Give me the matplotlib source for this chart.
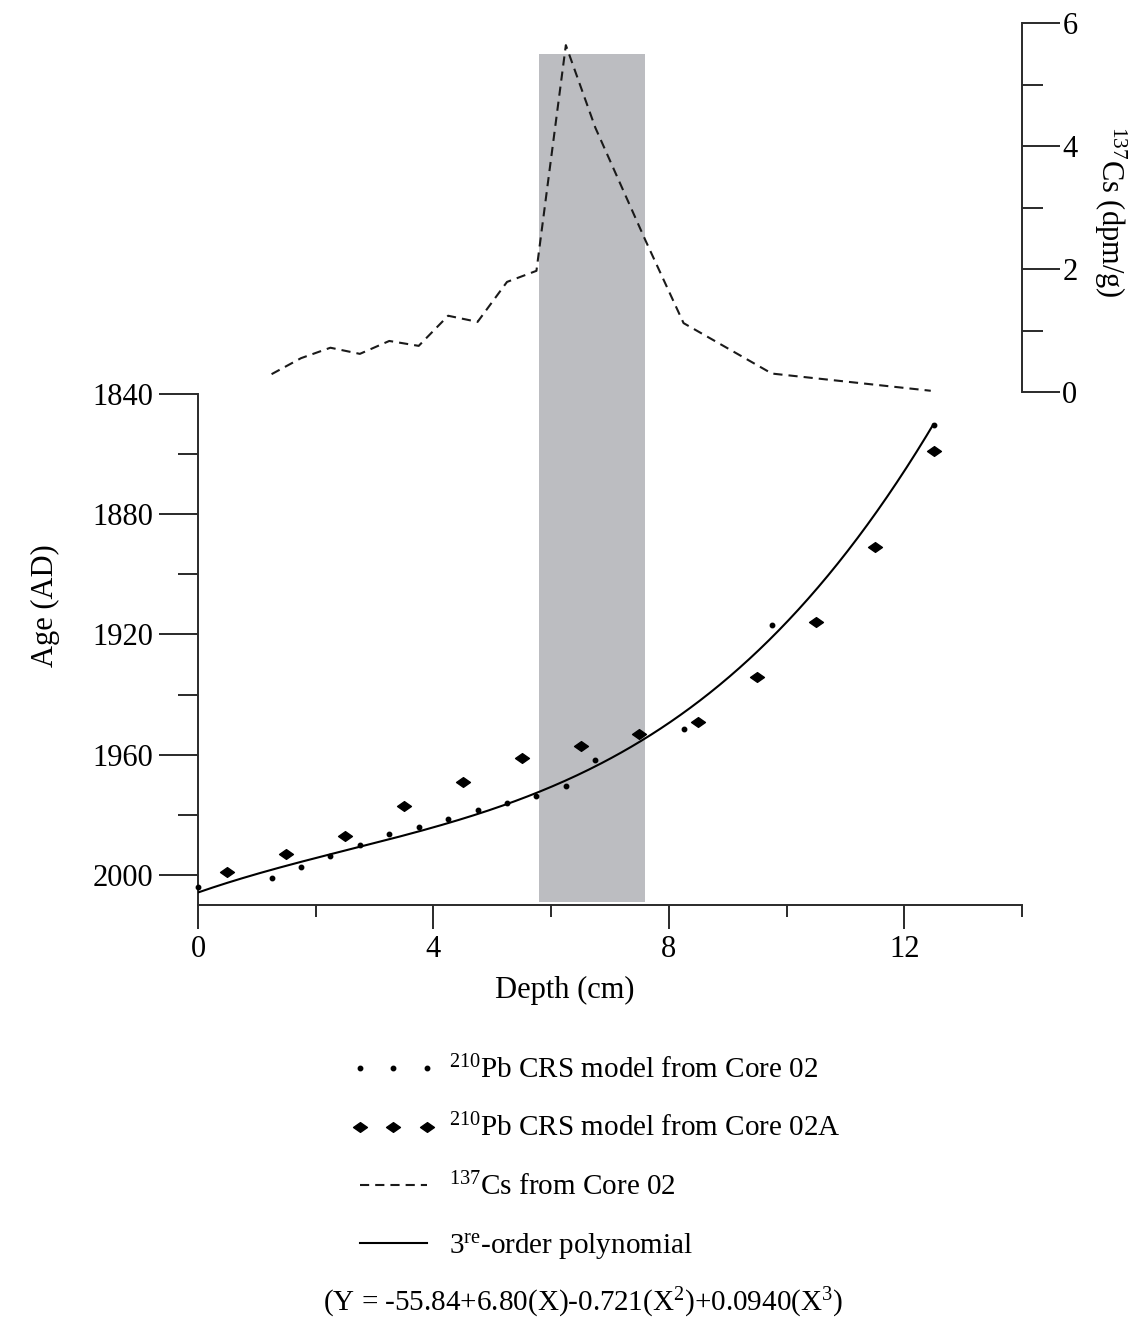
import matplotlib
matplotlib.use("Agg")
import matplotlib.pyplot as plt
import numpy as np
from matplotlib.lines import Line2D
from matplotlib.patches import Rectangle
from matplotlib.path import Path

# ---------------- data ----------------
depth_core02 = [0.0, 1.25, 1.75, 2.25, 2.75, 3.25, 3.75, 4.25, 4.75, 5.25,
                5.75, 6.25, 6.75, 8.25, 9.75, 12.5]
age_core02 = [2003.9, 2001.1, 1997.2, 1993.7, 1990.2, 1986.3, 1983.9, 1981.5,
              1978.3, 1976.0, 1973.6, 1970.5, 1961.9, 1951.4, 1916.8, 1850.2]

depth_core02a = [0.5, 1.5, 2.5, 3.5, 4.5, 5.5, 6.5, 7.5, 8.5, 9.5, 10.5, 11.5, 12.5]
age_core02a = [1998.9, 1993.1, 1987.0, 1977.0, 1969.0, 1961.0, 1957.0, 1953.0,
               1949.0, 1934.0, 1915.9, 1891.0, 1858.9]

cs_depth = [1.25, 1.75, 2.25, 2.75, 3.25, 3.75, 4.25, 4.75, 5.25, 5.75,
            6.25, 6.75, 7.6, 8.25, 9.75, 12.45]
cs_activity = [0.29, 0.55, 0.72, 0.62, 0.83, 0.75, 1.24, 1.14, 1.79, 1.97,
               5.64, 4.3, 2.47, 1.12, 0.30, 0.02]

# 3rd-order polynomial (years BP, relative to 1950) as printed on the chart
poly_coef = [-55.84, 6.80, -0.721, 0.0940]
poly_depth_range = [0.0, 12.5]
bp_reference_year = 1950

band_depth = [5.8, 7.6]          # shaded 137Cs peak interval
band_top_cs = 5.5

x_major = [0, 4, 8, 12]
x_minor = [2, 6, 10, 14]
y_major = [1840, 1880, 1920, 1960, 2000]
y_minor = [1860, 1900, 1940, 1980]
cs_major = [0, 2, 4, 6]
cs_minor = [1, 3, 5]

legend_labels = [r"$^{210}$Pb CRS model from Core 02",
                 r"$^{210}$Pb CRS model from Core 02A",
                 r"$^{137}$Cs from Core 02",
                 r"3$^{\mathrm{re}}$-order polynomial"]
equation_text = r"(Y = -55.84+6.80(X)-0.721(X$^{2}$)+0.0940(X$^{3}$)"

# ---------------- style ----------------
plt.rcParams["font.family"] = ["Liberation Serif", "DejaVu Serif"]
plt.rcParams["mathtext.fontset"] = "custom"
plt.rcParams["mathtext.rm"] = "Liberation Serif"
plt.rcParams["mathtext.it"] = "Liberation Serif:italic"
plt.rcParams["mathtext.bf"] = "Liberation Serif:bold"

W, H = 1138, 1319
fig = plt.figure(figsize=(W / 100, H / 100), dpi=100)

spine_c = "#2a2a2a"
lw_ax = 1.4
FS = 22

# main axes: pixel box left 198, right 1022, top 394, bottom 905
L, R, T, B = 198, 1022, 394, 905
ax = fig.add_axes([L / W, 1 - B / H, (R - L) / W, (B - T) / H])
ax.set_facecolor("none")
ax.set_xlim(0, 14)
ax.set_ylim(2010, 1840)
for s in ["top", "right"]:
    ax.spines[s].set_visible(False)
for s in ["left", "bottom"]:
    ax.spines[s].set_linewidth(lw_ax)
    ax.spines[s].set_color(spine_c)

ax.set_xticks(x_major)
ax.set_xticks(x_minor, minor=True)
ax.set_yticks(y_major)
ax.set_yticks(y_minor, minor=True)
ax.tick_params(axis="x", which="major", direction="out", length=17.3, width=lw_ax,
               color=spine_c, labelsize=FS, pad=4)
ax.tick_params(axis="x", which="minor", direction="out", length=8.6, width=lw_ax,
               color=spine_c)
ax.tick_params(axis="y", which="major", direction="out", length=28, width=lw_ax,
               color=spine_c, labelsize=FS, pad=4)
ax.tick_params(axis="y", which="minor", direction="out", length=14.4, width=lw_ax,
               color=spine_c)

ax.set_xlabel("Depth (cm)", fontsize=FS)
ax.xaxis.set_label_coords((565 - L) / (R - L), (B - 990) / (B - T))
ax.xaxis.label.set_va("center")
ax.set_ylabel("Age (AD)", fontsize=FS)
ax.yaxis.set_label_coords((45 - L) / (R - L), (B - 606) / (B - T))
ax.yaxis.label.set_va("center")

# shaded band, extending up into the 137Cs panel
cs_px_per_unit = (392 - 23) / 6.0
yr_px = (B - T) / (2010 - 1840)
band_top_year = 1840 - ((T - (392 - band_top_cs * cs_px_per_unit)) / yr_px)
band_bottom_year = 2009.0
band = Rectangle((band_depth[0], band_bottom_year), band_depth[1] - band_depth[0],
                 band_top_year - band_bottom_year, facecolor="#bcbdc1",
                 edgecolor="none", clip_on=False, zorder=0)
ax.add_patch(band)

# polynomial curve
xp = np.linspace(poly_depth_range[0], poly_depth_range[1], 300)
bp = np.polynomial.polynomial.polyval(xp, poly_coef)
ax.plot(xp, bp_reference_year - bp, color="black", lw=1.5, zorder=3,
        solid_capstyle="butt")

diamond = Path([(-1, 0), (0, 0.7), (1, 0), (0, -0.7), (-1, 0)],
               [Path.MOVETO, Path.LINETO, Path.LINETO, Path.LINETO, Path.CLOSEPOLY])

ax.plot(depth_core02, age_core02, linestyle="none", marker="o", markersize=3.2,
        color="black", zorder=4, clip_on=False)
ax.plot(depth_core02a, age_core02a, linestyle="none", marker=diamond,
        markersize=10, color="black", zorder=4, clip_on=False)

# 137Cs axes: top panel, right spine; pixel top 23, bottom 392
ax2 = fig.add_axes([L / W, 1 - 392 / H, (R - L) / W, (392 - 23) / H])
ax2.set_facecolor("none")
ax2.set_xlim(0, 14)
ax2.set_ylim(0, 6)
for s in ["top", "left", "bottom"]:
    ax2.spines[s].set_visible(False)
ax2.spines["right"].set_linewidth(lw_ax)
ax2.spines["right"].set_color(spine_c)
ax2.set_xticks([])
ax2.yaxis.tick_right()
ax2.set_yticks(cs_major)
ax2.set_yticks(cs_minor, minor=True)
ax2.tick_params(axis="y", which="major", direction="out", length=27.5, width=lw_ax,
                color=spine_c, labelsize=FS, pad=1.5)
ax2.tick_params(axis="y", which="minor", direction="out", length=15, width=lw_ax,
                color=spine_c)
ax2.plot(cs_depth, cs_activity, color="#1a1a1a", lw=1.5, linestyle=(0, (4.4, 2.9)),
         clip_on=False, zorder=3)

fig.text(1110 / W, 1 - 212 / H, r"$^{137}$Cs (dpm/g)", rotation=270,
         ha="center", va="center", fontsize=FS)

# legend
handles = [
    Line2D([], [], linestyle="none", marker="o", markersize=3.2, color="black"),
    Line2D([], [], linestyle="none", marker=diamond, markersize=10, color="black"),
    Line2D([], [], color="#1a1a1a", lw=1.5, linestyle=(0, (4.4, 2.9))),
    Line2D([], [], color="black", lw=1.5),
]
leg = fig.legend(handles, legend_labels, loc="upper left",
                 bbox_to_anchor=(351 / W, 1 - 1056 / H), frameon=False,
                 numpoints=3, fontsize=21, handlelength=2.9, handletextpad=0.45,
                 labelspacing=1.02, borderpad=0, borderaxespad=0)

fig.text(583 / W, 1 - 1303 / H, equation_text, ha="center", va="center", fontsize=21)

fig.savefig("out.png", dpi=100)
